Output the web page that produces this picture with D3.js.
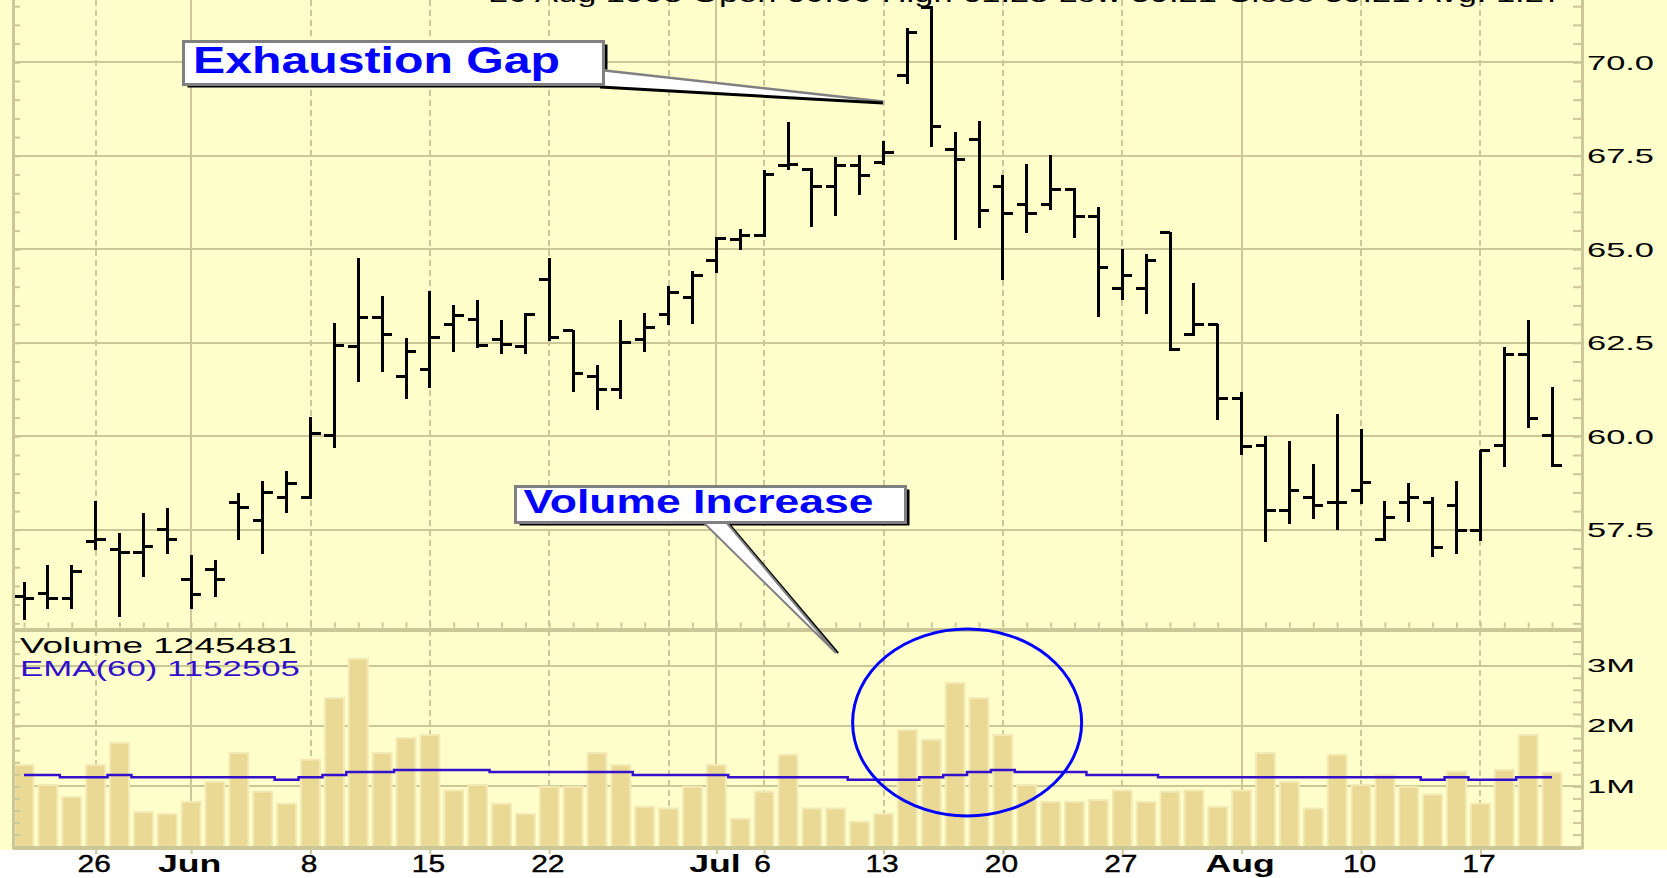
<!DOCTYPE html>
<html>
<head>
<meta charset="utf-8">
<script src="https://cdn.jsdelivr.net/npm/d3@7"></script>
<style>
  html, body { margin: 0; padding: 0; background: #fff; overflow: hidden; }
  svg { display: block; }
</style>
</head>
<body>
<div id="wrapper"></div>
<script>
// trading days, 20 May - 20 Aug 1998
const dates = [
  "1998-05-20", "1998-05-21", "1998-05-22", "1998-05-26", "1998-05-27", "1998-05-28", "1998-05-29",
  "1998-06-01", "1998-06-02", "1998-06-03", "1998-06-04", "1998-06-05",
  "1998-06-08", "1998-06-09", "1998-06-10", "1998-06-11", "1998-06-12",
  "1998-06-15", "1998-06-16", "1998-06-17", "1998-06-18", "1998-06-19",
  "1998-06-22", "1998-06-23", "1998-06-24", "1998-06-25", "1998-06-26",
  "1998-06-29", "1998-06-30", "1998-07-01", "1998-07-02",
  "1998-07-06", "1998-07-07", "1998-07-08", "1998-07-09", "1998-07-10",
  "1998-07-13", "1998-07-14", "1998-07-15", "1998-07-16", "1998-07-17",
  "1998-07-20", "1998-07-21", "1998-07-22", "1998-07-23", "1998-07-24",
  "1998-07-27", "1998-07-28", "1998-07-29", "1998-07-30", "1998-07-31",
  "1998-08-03", "1998-08-04", "1998-08-05", "1998-08-06", "1998-08-07",
  "1998-08-10", "1998-08-11", "1998-08-12", "1998-08-13", "1998-08-14",
  "1998-08-17", "1998-08-18", "1998-08-19", "1998-08-20",
]

const opens = [
  55.71, 55.80, 55.65, 57.18, 56.96, 56.90, 57.50,
  56.18, 56.44, 58.23, 57.76, 58.36,
  58.36, 60.01, 62.40, 63.18, 61.60,
  61.79, 62.98, 63.13, 62.59, 62.40,
  64.18, 62.82, 61.61, 61.26, 62.58,
  63.26, 63.71, 64.71, 65.25,
  65.36, 67.23, 67.14, 66.67, 67.23,
  67.32, 69.66, 71.47, 67.67, 67.94,
  66.69, 66.21, 66.21, 66.61, 65.89,
  63.96, 63.96, 65.44, 62.71, 62.98,
  61.00, 59.75, 58.01, 58.36, 58.23,
  58.56, 57.24, 58.23, 58.23, 58.16,
  57.49, 59.75, 62.20, 60.01,
]
const highs = [
  56.09, 56.53, 56.53, 58.25, 57.39, 57.92, 58.05,
  56.80, 56.67, 58.46, 58.77, 59.04,
  60.48, 62.99, 64.74, 63.72, 62.60,
  63.85, 63.48, 63.62, 63.08, 63.26,
  64.74, 62.82, 61.89, 63.08, 63.27,
  63.98, 64.38, 65.31, 65.52,
  67.10, 68.37, 67.14, 67.43, 67.49,
  67.88, 70.88, 71.47, 68.10, 68.41,
  66.97, 67.25, 67.49, 66.61, 66.10,
  64.98, 64.85, 65.44, 64.07, 62.98,
  61.15, 59.99, 59.84, 59.23, 60.57,
  60.17, 58.23, 58.72, 58.36, 58.77,
  59.62, 62.35, 63.08, 61.28,
]
const lows = [
  55.11, 55.42, 55.42, 57.00, 55.20, 56.27, 56.87,
  55.42, 55.74, 57.25, 56.87, 57.98,
  58.36, 59.72, 61.49, 61.75, 61.03,
  61.31, 62.29, 62.38, 62.24, 62.24,
  62.58, 61.22, 60.72, 61.03, 62.29,
  63.00, 63.02, 64.40, 65.00,
  65.36, 67.14, 65.61, 65.92, 66.47,
  67.27, 69.44, 67.77, 65.27, 65.60,
  64.20, 65.47, 66.07, 65.34, 63.22,
  63.67, 63.29, 62.32, 62.71, 60.45,
  59.52, 57.21, 57.67, 57.81, 57.52,
  58.21, 57.24, 57.73, 56.81, 56.87,
  57.23, 59.20, 60.24, 59.21,
]
const closes = [
  55.65, 55.65, 56.38, 57.23, 56.90, 57.05, 57.23,
  55.77, 56.18, 58.09, 58.49, 58.74,
  60.08, 62.44, 63.18, 62.71, 62.26,
  62.65, 63.24, 62.44, 62.46, 63.26,
  62.65, 61.67, 61.26, 62.51, 62.91,
  63.84, 64.30, 65.29, 65.36,
  67.01, 67.28, 66.67, 67.23, 66.96,
  67.59, 70.79, 68.28, 67.40, 66.03,
  65.96, 65.96, 66.61, 65.89, 64.51,
  64.31, 64.70, 62.32, 62.98, 61.00,
  59.74, 58.01, 58.56, 58.16, 58.23,
  58.76, 57.82, 58.36, 57.03, 57.49,
  59.62, 62.20, 60.48, 59.21,
]

// volume and its 60-day EMA, millions of shares
const volumes = [
  1.37, 1.04, 0.84, 1.37, 1.74, 0.59, 0.56,
  0.76, 1.09, 1.57, 0.93, 0.73,
  1.46, 2.48, 3.13, 1.57, 1.82,
  1.87, 0.95, 1.04, 0.73, 0.56,
  1.01, 1.01, 1.57, 1.37, 0.68,
  0.65, 1.01, 1.37, 0.48,
  0.93, 1.54, 0.65, 0.65, 0.43,
  0.56, 1.95, 1.79, 2.73, 2.48,
  1.87, 1.04, 0.76, 0.76, 0.79,
  0.95, 0.76, 0.93, 0.95, 0.68,
  0.95, 1.57, 1.09, 0.65, 1.54,
  1.04, 1.21, 1.01, 0.88, 1.26,
  0.73, 1.29, 1.87, 1.245,
]
const emaValues = [
  1.19, 1.19, 1.15, 1.15, 1.19, 1.15, 1.15,
  1.15, 1.15, 1.15, 1.15, 1.11,
  1.15, 1.19, 1.24, 1.24, 1.27,
  1.27, 1.27, 1.27, 1.24, 1.24,
  1.24, 1.24, 1.24, 1.24, 1.19,
  1.19, 1.19, 1.19, 1.15,
  1.15, 1.15, 1.15, 1.15, 1.11,
  1.11, 1.11, 1.15, 1.19, 1.24,
  1.27, 1.24, 1.24, 1.24, 1.19,
  1.19, 1.19, 1.15, 1.15, 1.15,
  1.15, 1.15, 1.15, 1.15, 1.15,
  1.15, 1.15, 1.15, 1.11, 1.15,
  1.11, 1.11, 1.15, 1.15,
]

const priceTicks = [57.5, 60, 62.5, 65, 67.5, 70]
const volumeTicks = [1, 2, 3]
const labelDates = [
  "1998-05-26", "1998-06-01", "1998-06-08", "1998-06-15", "1998-06-22", "1998-07-01",
  "1998-07-06", "1998-07-13", "1998-07-20", "1998-07-27", "1998-08-03", "1998-08-10", "1998-08-17",
]
const dateLabels = ["26", "Jun", "8", "15", "22", "Jul", "6", "13", "20", "27", "Aug", "10", "17"]
const weekStarts = [
  "1998-05-26", "1998-06-08", "1998-06-15", "1998-06-22", "1998-06-29",
  "1998-07-06", "1998-07-13", "1998-07-20", "1998-07-27", "1998-08-10", "1998-08-17",
]
const monthStarts = ["1998-06-01", "1998-07-01", "1998-08-03"]

const headerText = "20 Aug 1998   Open 60.00   High 61.28   Low 59.21   Close 59.21   Avg: 1.27"
const volumeLegend = "Volume  1245481"
const emaLegend = "EMA(60) 1152505"
const gapLabel = "Exhaustion Gap"
const volumeLabel = "Volume Increase"

const drawChart = () => {
  const bars = dates.map((date, i) => ({
    date,
    open: opens[i],
    high: highs[i],
    low: lows[i],
    close: closes[i],
    volume: volumes[i],
    ema: emaValues[i],
  }))

  // 1) accessors
  const xAccessor = (d) => d.date

  // 2) dimensions
  const dimensions = {
    width: 1667,
    height: 878,
    left: 13,
    right: 1582,
    panelSplit: 629.5,
    bottom: 848,
  }
  const gridColor = "#ccc796"
  const blue = "#0000ff"

  // 3) canvas
  const svg = d3
    .select("#wrapper")
    .append("svg")
    .attr("width", dimensions.width)
    .attr("height", dimensions.height)
    .style("font-family", "'Liberation Sans', Arial, sans-serif")

  svg.append("rect").attr("width", dimensions.width).attr("height", dimensions.height).attr("fill", "#ffffff")
  svg.append("rect").attr("width", dimensions.width).attr("height", 850).attr("fill", "#ffffcc")

  // 4) scales
  const xScale = d3.scalePoint().domain(dates).range([24, 1552])
  const priceScale = d3.scaleLinear().domain([57.5, 70]).range([529.8, 62.3])
  const volumeScale = d3.scaleLinear().domain([0, 3]).range([846.7, 665.7])

  // 5) grid
  const grid = svg.append("g").attr("stroke", gridColor).attr("stroke-width", 2).attr("shape-rendering", "crispEdges")

  grid.selectAll(".price-grid")
    .data(priceTicks)
    .join("line")
    .attr("x1", dimensions.left)
    .attr("x2", dimensions.right)
    .attr("y1", (d) => priceScale(d))
    .attr("y2", (d) => priceScale(d))

  grid.selectAll(".volume-grid")
    .data(volumeTicks)
    .join("line")
    .attr("x1", dimensions.left)
    .attr("x2", dimensions.right)
    .attr("y1", (d) => volumeScale(d))
    .attr("y2", (d) => volumeScale(d))

  grid.selectAll(".week-grid")
    .data(weekStarts)
    .join("line")
    .attr("x1", (d) => xScale(d))
    .attr("x2", (d) => xScale(d))
    .attr("y1", 0)
    .attr("y2", dimensions.bottom)
    .attr("stroke-dasharray", "6,4")

  grid.selectAll(".month-grid")
    .data(monthStarts)
    .join("line")
    .attr("x1", (d) => xScale(d))
    .attr("x2", (d) => xScale(d))
    .attr("y1", 0)
    .attr("y2", dimensions.bottom)

  // 6) volume bars + EMA
  svg.append("g")
    .selectAll("rect")
    .data(bars)
    .join("rect")
    .attr("x", (d) => xScale(xAccessor(d)) - 9.5)
    .attr("width", 19)
    .attr("y", (d) => volumeScale(d.volume) + 1)
    .attr("height", (d) => volumeScale(0) - volumeScale(d.volume) - 1)
    .attr("fill", "#ead995")
    .attr("stroke", "#f3eab6")
    .attr("stroke-width", 2)

  const emaLine = d3.line()
    .x((d) => xScale(xAccessor(d)))
    .y((d) => volumeScale(d.ema))
    .curve(d3.curveStep)

  svg.append("path")
    .datum(bars)
    .attr("d", emaLine)
    .attr("fill", "none")
    .attr("stroke", "#3311cc")
    .attr("stroke-width", 2.5)

  // 7) price bars
  const ohlc = svg.append("g").attr("stroke", "#000").attr("stroke-width", 3).attr("shape-rendering", "crispEdges")

  ohlc.selectAll(".range")
    .data(bars)
    .join("line")
    .attr("x1", (d) => xScale(xAccessor(d)))
    .attr("x2", (d) => xScale(xAccessor(d)))
    .attr("y1", (d) => priceScale(d.high) - 1)
    .attr("y2", (d) => priceScale(d.low) + 1)

  ohlc.selectAll(".open")
    .data(bars)
    .join("line")
    .attr("x1", (d) => xScale(xAccessor(d)) - 10)
    .attr("x2", (d) => xScale(xAccessor(d)))
    .attr("y1", (d) => priceScale(d.open))
    .attr("y2", (d) => priceScale(d.open))

  ohlc.selectAll(".close")
    .data(bars)
    .join("line")
    .attr("x1", (d) => xScale(xAccessor(d)))
    .attr("x2", (d) => xScale(xAccessor(d)) + 10)
    .attr("y1", (d) => priceScale(d.close))
    .attr("y2", (d) => priceScale(d.close))

  // 8) frame
  const frame = svg.append("g").attr("stroke", gridColor).attr("stroke-width", 3).attr("shape-rendering", "crispEdges")
  frame.append("line").attr("x1", dimensions.left).attr("x2", dimensions.left).attr("y1", 0).attr("y2", dimensions.bottom + 1)
  frame.append("line").attr("x1", dimensions.right).attr("x2", dimensions.right).attr("y1", 0).attr("y2", dimensions.bottom + 1)
  frame.append("line").attr("x1", dimensions.left).attr("x2", dimensions.right).attr("y1", dimensions.panelSplit).attr("y2", dimensions.panelSplit).attr("stroke-width", 4)
  frame.append("line").attr("x1", dimensions.left).attr("x2", dimensions.right).attr("y1", dimensions.bottom).attr("y2", dimensions.bottom).attr("stroke-width", 4)

  // 9) axes
  const styleTicks = (g) => {
    g.select(".domain").remove()
    g.selectAll(".tick line").attr("stroke", gridColor).attr("stroke-width", 2)
  }
  const priceMinor = d3.range(55, 72, 0.5)
  const volumeMinor = d3.range(0.2, 3.5, 0.2)

  svg.append("g").attr("transform", `translate(${dimensions.right - 1},0)`)
    .call(d3.axisLeft(priceScale).tickValues(priceMinor).tickSize(8).tickFormat(""))
    .call(styleTicks)
  svg.append("g").attr("transform", `translate(${dimensions.left + 1},0)`)
    .call(d3.axisRight(priceScale).tickValues(priceMinor).tickSize(6).tickFormat(""))
    .call(styleTicks)
  svg.append("g").attr("transform", `translate(${dimensions.right - 1},0)`)
    .call(d3.axisLeft(volumeScale).tickValues(volumeMinor).tickSize(8).tickFormat(""))
    .call(styleTicks)
  svg.append("g").attr("transform", `translate(${dimensions.left + 1},0)`)
    .call(d3.axisRight(volumeScale).tickValues(volumeMinor).tickSize(6).tickFormat(""))
    .call(styleTicks)
  svg.append("g").attr("transform", `translate(0,${dimensions.panelSplit - 2})`)
    .call(d3.axisTop(xScale).tickSize(5).tickFormat(""))
    .call(styleTicks)

  const priceAxis = svg.append("g")
    .attr("transform", `translate(${dimensions.right},0)`)
    .call(d3.axisRight(priceScale).tickValues(priceTicks).tickSize(0).tickPadding(5).tickFormat(d3.format(".1f")))
  priceAxis.select(".domain").remove()
  priceAxis.attr("font-family", null).attr("font-size", 21)
  priceAxis.selectAll("text").attr("fill", "#000").attr("textLength", 67).attr("lengthAdjust", "spacingAndGlyphs")

  const volumeAxis = svg.append("g")
    .attr("transform", `translate(${dimensions.right},0)`)
    .call(d3.axisRight(volumeScale).tickValues(volumeTicks).tickSize(0).tickPadding(5).tickFormat((d) => `${d}M`))
  volumeAxis.select(".domain").remove()
  volumeAxis.attr("font-family", null).attr("font-size", 18)
  volumeAxis.selectAll("text").attr("fill", "#000").attr("textLength", 48).attr("lengthAdjust", "spacingAndGlyphs")

  const xAxis = svg.append("g")
    .attr("transform", `translate(0,${dimensions.bottom + 1})`)
    .call(
      d3.axisBottom(xScale)
        .tickValues(labelDates)
        .tickSize(5)
        .tickPadding(2)
        .tickFormat((d) => dateLabels[labelDates.indexOf(d)])
    )
  xAxis.select(".domain").remove()
  xAxis.selectAll(".tick line").attr("stroke", gridColor).attr("stroke-width", 2)
  xAxis.attr("font-family", null).attr("font-size", 23)
  xAxis.selectAll("text")
    .attr("fill", "#000")
    .attr("dx", -2)
    .attr("font-weight", (d) => (monthStarts.includes(d) ? "bold" : "normal"))
    .attr("stroke", (d) => (monthStarts.includes(d) ? null : "#000"))
    .attr("stroke-width", 0.4)
    .each(function (d) {
      const k = monthStarts.includes(d) ? 1.55 : 1.3
      d3.select(this)
        .attr("textLength", this.getComputedTextLength() * k)
        .attr("lengthAdjust", "spacingAndGlyphs")
    })

  // 10) legend + header (header is cut by the top edge, as in the source image)
  svg.append("text")
    .attr("x", 489)
    .attr("y", 1.5)
    .attr("font-size", 24)
    .attr("textLength", 1074)
    .attr("lengthAdjust", "spacingAndGlyphs")
    .text(headerText)

  svg.append("text")
    .attr("x", 20)
    .attr("y", 653)
    .attr("font-size", 22)
    .attr("textLength", 277)
    .attr("lengthAdjust", "spacingAndGlyphs")
    .attr("fill", "#000")
    .text(volumeLegend)

  svg.append("text")
    .attr("x", 20)
    .attr("y", 676)
    .attr("font-size", 22)
    .attr("textLength", 280)
    .attr("lengthAdjust", "spacingAndGlyphs")
    .attr("fill", "#3311cc")
    .text(emaLegend)

  // 11) annotations
  const callout = (box, wedge, label) => {
    const g = svg.append("g")
    g.append("rect")
      .attr("x", box.x + 4).attr("y", box.y + 3)
      .attr("width", box.w).attr("height", box.h)
      .attr("fill", "#000")
    wedge(g)
    g.append("rect")
      .attr("x", box.x).attr("y", box.y)
      .attr("width", box.w).attr("height", box.h)
      .attr("fill", "#fff")
      .attr("stroke", "#808080")
      .attr("stroke-width", 3)
    g.append("text")
      .attr("x", label.x).attr("y", label.y)
      .attr("font-size", label.size)
      .attr("font-weight", "bold")
      .attr("fill", blue)
      .attr("textLength", label.w)
      .attr("lengthAdjust", "spacingAndGlyphs")
      .text(label.text)
  }

  callout(
    { x: 183.5, y: 41.5, w: 420, h: 43 },
    (g) => {
      g.append("polygon").attr("points", "600,69 883,101 883,103 600,86").attr("fill", "#fff")
      g.append("line").attr("x1", 600).attr("y1", 70).attr("x2", 883).attr("y2", 101.5).attr("stroke", "#808080").attr("stroke-width", 2.5)
      g.append("line").attr("x1", 600).attr("y1", 87).attr("x2", 883).attr("y2", 103).attr("stroke", "#000").attr("stroke-width", 3)
    },
    { x: 193, y: 73, size: 37, w: 367, text: gapLabel }
  )

  callout(
    { x: 515.5, y: 486.5, w: 390, h: 36 },
    (g) => {
      g.append("line").attr("x1", 729).attr("y1", 524).attr("x2", 838).attr("y2", 653).attr("stroke", "#000").attr("stroke-width", 2)
      g.append("polygon").attr("points", "703,522 726,522 836,653").attr("fill", "#fff").attr("stroke", "#808080").attr("stroke-width", 2)
    },
    { x: 523.5, y: 513, size: 33, w: 350, text: volumeLabel }
  )

  // ring round the high-volume days after the gap
  svg.append("ellipse")
    .attr("cx", xScale("1998-07-16") + 12)
    .attr("cy", 722.5)
    .attr("rx", 114.5)
    .attr("ry", 93.5)
    .attr("fill", "none")
    .attr("stroke", blue)
    .attr("stroke-width", 3)
}

drawChart()
</script>
</body>
</html>
